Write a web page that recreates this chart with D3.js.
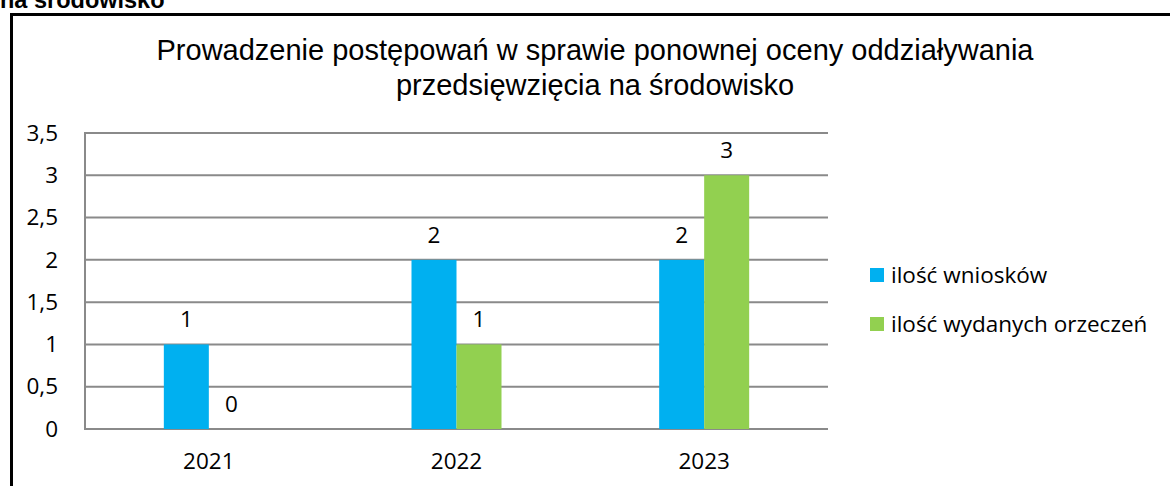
<!DOCTYPE html>
<html>
<head>
<meta charset="utf-8">
<script src="https://cdn.jsdelivr.net/npm/d3@7"></script>
<style>
  body { margin: 0; background: #fff; }
  svg { display: block; }
</style>
</head>
<body>
<svg id="chart"></svg>
<script>
// data
const years = ["2021", "2022", "2023"];
const seriesNames = ["ilość wniosków", "ilość wydanych orzeczeń"];
const wnioski = [1, 2, 2];
const orzeczenia = [0, 1, 3];
const yTicks = [0, 0.5, 1, 1.5, 2, 2.5, 3, 3.5];
const titleLines = ["Prowadzenie postępowań w sprawie ponownej oceny oddziaływania",
                    "przedsięwzięcia na środowisko"];

const colors = ["#00B0F0", "#92D050"];
const W = 1170, H = 486;
const font = "'Open Sans', Lato, sans-serif";
const fs = 22.5;

const svg = d3.select("#chart").attr("width", W).attr("height", H);

// cut off heading from the page above
svg.append("text")
  .attr("x", 0).attr("y", 8)
  .attr("font-family", "'Liberation Sans', Arial, sans-serif")
  .attr("font-weight", "bold")
  .attr("font-size", 23.5)
  .text("na środowisko");

// frame of the chart
svg.append("rect")
  .attr("x", 11.5).attr("y", 14.5)
  .attr("width", W + 10).attr("height", H + 10)
  .attr("fill", "none").attr("stroke", "#000").attr("stroke-width", 3);

// title
svg.append("text")
  .attr("text-anchor", "middle")
  .attr("font-family", "'Liberation Sans', Arial, sans-serif")
  .attr("font-size", 29)
  .attr("fill", "#000")
  .selectAll("tspan")
  .data(titleLines)
  .join("tspan")
    .attr("x", 595)
    .attr("y", (d, i) => 60 + i * 35)
    .text(d => d);

const margin = {left: 85, right: 828, top: 133, bottom: 429};

const x = d3.scaleBand()
  .domain(years)
  .range([margin.left, margin.right])
  .paddingInner(0)
  .paddingOuter(0);

const y = d3.scaleLinear()
  .domain([0, 3.5])
  .range([margin.bottom, margin.top]);

const barW = 45;
const xSub = d3.scaleBand()
  .domain([0, 1])
  .range([0, barW * 2]);

// gridlines
svg.append("g")
  .selectAll("line")
  .data(yTicks)
  .join("line")
    .attr("x1", margin.left).attr("x2", margin.right)
    .attr("y1", d => y(d)).attr("y2", d => y(d))
    .attr("stroke", "#8a8a8a").attr("stroke-width", 2);

// left axis line
svg.append("line")
  .attr("x1", margin.left).attr("x2", margin.left)
  .attr("y1", y(3.5) - 1).attr("y2", y(0) + 1)
  .attr("stroke", "#8a8a8a").attr("stroke-width", 2);

// y tick labels
const yAxis = d3.axisLeft(y)
  .tickValues(yTicks)
  .tickSize(0)
  .tickPadding(27)
  .tickFormat(d => String(d).replace(".", ","));
svg.append("g")
  .attr("transform", `translate(${margin.left},0)`)
  .call(yAxis)
  .call(g => g.select(".domain").remove())
  .selectAll("text")
    .attr("font-family", font)
    .attr("font-size", fs)
    .attr("fill", "#000");

// x tick labels
const xAxis = d3.axisBottom(x).tickSize(0).tickPadding(24);
svg.append("g")
  .attr("transform", `translate(0,${margin.bottom})`)
  .call(xAxis)
  .call(g => g.select(".domain").remove())
  .selectAll("text")
    .attr("font-family", font)
    .attr("font-size", fs)
    .attr("fill", "#000");

// bars
const rows = years.map((yr, i) => ({year: yr, values: [wnioski[i], orzeczenia[i]]}));
const groups = svg.append("g")
  .selectAll("g")
  .data(rows)
  .join("g")
    .attr("transform", d => `translate(${x(d.year) + x.bandwidth() / 2 - barW},0)`);

groups.selectAll("rect")
  .data(d => d.values)
  .join("rect")
    .attr("x", (d, i) => xSub(i))
    .attr("width", xSub.bandwidth())
    .attr("y", d => y(d))
    .attr("height", d => y(0) - y(d))
    .attr("fill", (d, i) => colors[i]);

groups.selectAll("text")
  .data(d => d.values)
  .join("text")
    .attr("x", (d, i) => xSub(i) + xSub.bandwidth() / 2)
    .attr("y", d => y(d) - 17)
    .attr("text-anchor", "middle")
    .attr("font-family", font)
    .attr("font-size", fs)
    .attr("fill", "#000")
    .text(d => d);

// legend
const legend = svg.append("g")
  .selectAll("g")
  .data(seriesNames)
  .join("g")
    .attr("transform", (d, i) => `translate(870,${268 + i * 49})`);
legend.append("rect")
  .attr("width", 14).attr("height", 14)
  .attr("fill", (d, i) => colors[i]);
legend.append("text")
  .attr("x", 21).attr("y", 15)
  .attr("font-family", font)
  .attr("font-size", fs)
  .attr("fill", "#000")
  .text(d => d);
</script>
</body>
</html>
